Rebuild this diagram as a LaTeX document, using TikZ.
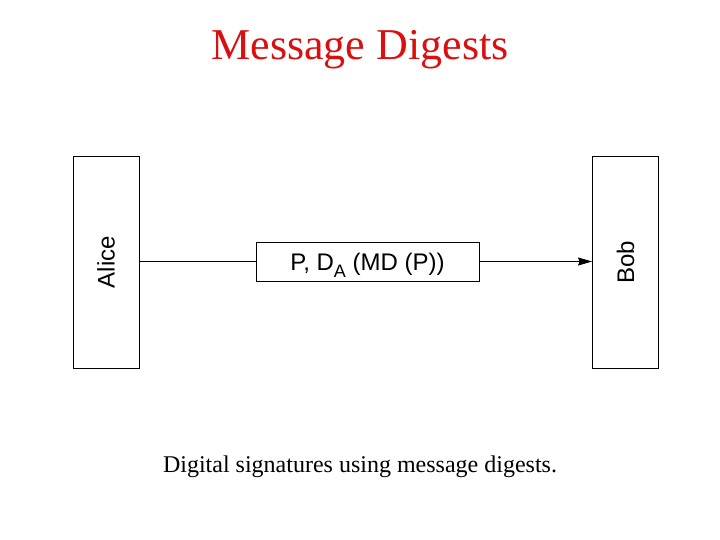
\documentclass[tikz,border=0pt]{standalone}
\usepackage{fontspec}
\setmainfont{Liberation Serif}
\newfontfamily\arialish{Liberation Sans}
\usetikzlibrary{arrows.meta}
\definecolor{titlered}{RGB}{218,16,16}
\begin{document}
\begin{tikzpicture}[x=1pt,y=-1pt,
  party/.style={draw=black,line width=0.9pt,rotate=90,minimum width=212pt,minimum height=66pt,inner sep=0pt,font=\arialish\fontsize{24}{24}\selectfont},
  msgbox/.style={draw=black,line width=0.9pt,minimum width=223pt,minimum height=39pt,inner sep=0pt,text height=17.2pt,text depth=0pt,font=\arialish\fontsize{24}{24}\selectfont},
  conn/.style={line width=0.8pt}]
\useasboundingbox (0,0) rectangle (720,540);
\node[anchor=base,text=titlered,font=\fontsize{44}{44}\selectfont] (title) at (360,60) {Message Digests};
\node[party] (alice) at (106,262) {Alice};
\node[party] (bob) at (625.5,262) {Bob};
\node[msgbox] (msg) at (367.5,261.5) {P, D\raisebox{-0.3em}{\fontsize{18}{18}\selectfont A} (MD (P))};
\draw[conn] (alice.south |- msg.west) -- (msg.west);
\draw[conn,-{Stealth[length=14pt,width=8pt,inset=1.5pt]}] (msg.east) -- (msg.east -| bob.north);
\node[anchor=base,font=\fontsize{24}{24}\selectfont] (caption) at (360,472) {Digital signatures using message digests.};
\end{tikzpicture}
\end{document}
